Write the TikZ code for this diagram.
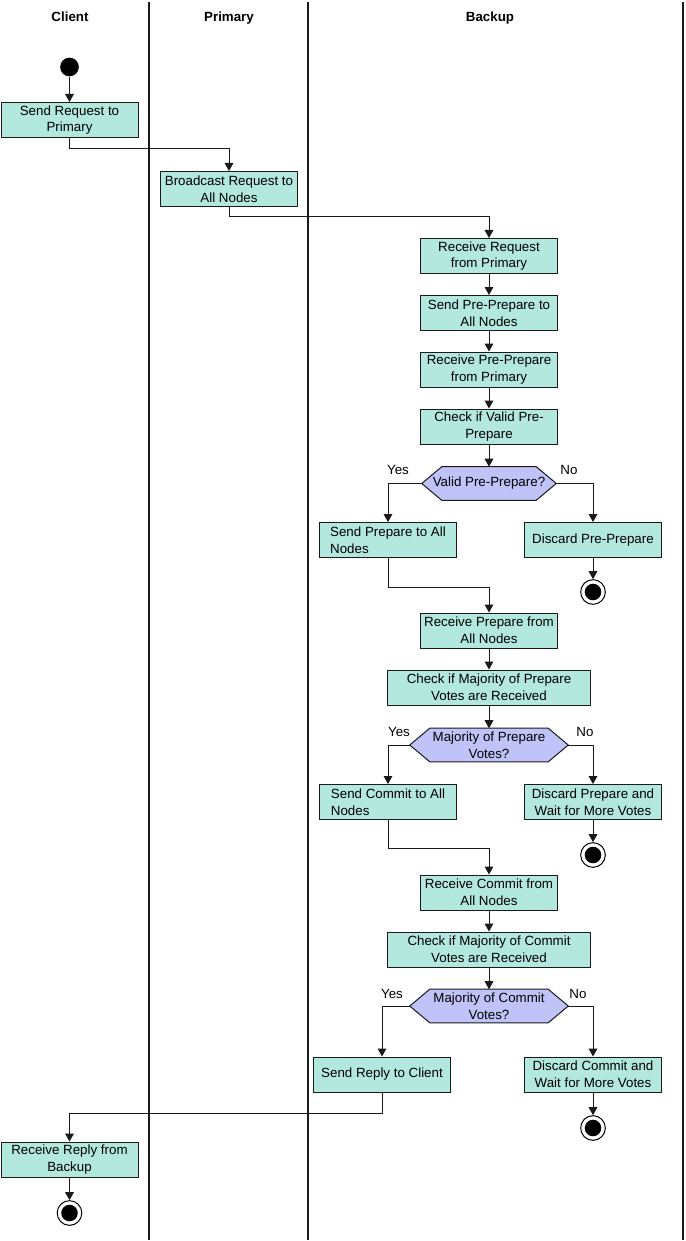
\documentclass[tikz,border=0pt]{standalone}
\usepackage{fontspec}
\setmainfont{Liberation Sans}
\usetikzlibrary{arrows.meta,backgrounds}
\definecolor{boxc}{HTML}{B3E8DF}
\definecolor{decc}{HTML}{BFC3F7}
\definecolor{linec}{HTML}{1A1A1A}
\newcommand\drawhex[1]{%
  \begin{scope}[on background layer]
    \path[hexfill] (#1.west) -- ([xshift=15pt]#1.north west) -- ([xshift=-15pt]#1.north east)
      -- (#1.east) -- ([xshift=-15pt]#1.south east) -- ([xshift=15pt]#1.south west) -- cycle;
  \end{scope}}
\begin{document}
\begin{tikzpicture}[x=0.75pt,y=-0.75pt,
  font=\fontsize{10}{12.5}\selectfont,
  act/.style={draw=linec, line width=0.75pt, fill=boxc, minimum width=102.75pt,
    minimum height=26.25pt, align=center, inner sep=1pt},
  widebox/.style={act, minimum width=152.25pt},
  dec/.style={minimum width=100.5pt, minimum height=24.75pt, align=center, inner sep=0pt},
  decw/.style={dec, minimum width=118.5pt},
  hexfill/.style={draw=linec, line width=0.75pt, fill=decc},
  flow/.style={draw=linec, line width=0.75pt, -{Triangle[length=6pt,width=6.5pt]}},
  lane/.style={draw=linec, line width=0.8pt},
  startnode/.style={circle, fill=black, minimum size=14pt, inner sep=0pt},
  endnode/.style={circle, draw=black, line width=0.75pt, fill=white, minimum size=18.5pt,
    inner sep=0pt, path picture={\fill[black] (path picture bounding box.center) circle (6.2pt);}},
  hdr/.style={font=\fontsize{10}{12}\selectfont\bfseries, anchor=base, inner sep=0pt},
  lbl/.style={font=\fontsize{10}{12}\selectfont, inner sep=0pt}]

\useasboundingbox (0,0) rectangle (685,1241);
\begin{scope}[on background layer]
  \fill[white] (0,0) rectangle (685,1241);
\end{scope}

% swimlanes
\draw[lane] (149,2) -- (149,1240);
\draw[lane] (308,2) -- (308,1240);
\draw[lane] (683,2) -- (683,1240);
\node[hdr] (hc) at (70,22) {Client};
\node[hdr] (hp) at (229,22) {Primary};
\node[hdr] (hb) at (490,22) {Backup};

% nodes
\node[startnode] (s) at (69.5,67) {};
\node[act] (b1) at (69.5,120) {Send Request to\\Primary};
\node[act] (b2) at (229,189) {Broadcast Request to\\All Nodes};
\node[act] (b3) at (489,256) {Receive Request\\from Primary};
\node[act] (b4) at (489,313) {Send Pre-Prepare to\\All Nodes};
\node[act] (b5) at (489,369.5) {Receive Pre-Prepare\\from Primary};
\node[act] (b6) at (489,426.5) {Check if Valid Pre-\\Prepare};
\node[dec] (d1) at (489,483.5) {Valid Pre-Prepare?};
\drawhex{d1}
\node[act, align=left] (b7) at (388,540) {Send Prepare to All\\Nodes};
\node[act] (b8) at (593,540) {Discard Pre-Prepare};
\node[endnode] (e1) at (593,592) {};
\node[act] (b9) at (489,630.5) {Receive Prepare from\\All Nodes};
\node[widebox] (b10) at (489,687.5) {Check if Majority of Prepare\\Votes are Received};
\node[decw] (d2) at (489,745) {Majority of Prepare\\Votes?};
\drawhex{d2}
\node[act, align=left] (b11) at (388,802) {Send Commit to All\\Nodes};
\node[act] (b12) at (593,802) {Discard Prepare and\\Wait for More Votes};
\node[endnode] (e2) at (593,855) {};
\node[act] (b13) at (489,892.5) {Receive Commit from\\All Nodes};
\node[widebox] (b14) at (489,949.5) {Check if Majority of Commit\\Votes are Received};
\node[decw] (d3) at (489,1006) {Majority of Commit\\Votes?};
\drawhex{d3}
\node[act] (b15) at (382,1074.5) {Send Reply to Client};
\node[act] (b16) at (593,1074.5) {Discard Commit and\\Wait for More Votes};
\node[endnode] (e3) at (593,1128) {};
\node[act] (b17) at (69.5,1159.5) {Receive Reply from\\Backup};
\node[endnode] (e4) at (69.5,1213) {};

% labels
\node[lbl] (y1) at (398,470) {Yes};
\node[lbl] (n1) at (569,470) {No};
\node[lbl] (y2) at (399,732) {Yes};
\node[lbl] (n2) at (585,732) {No};
\node[lbl] (y3) at (392,994) {Yes};
\node[lbl] (n3) at (578,994) {No};

% connectors
\draw[flow] (s) -- (b1);
\draw[flow] (b1.south) -- ++(0,11) -| (b2.north);
\draw[flow] (b2.south) -- ++(0,10) -| (b3.north);
\draw[flow] (b3) -- (b4);
\draw[flow] (b4) -- (b5);
\draw[flow] (b5) -- (b6);
\draw[flow] (b6) -- (d1);
\draw[flow] (d1.west) -| (b7.north);
\draw[flow] (d1.east) -| (b8.north);
\draw[flow] (b8) -- (e1);
\draw[flow] (b7.south) -- ++(0,29) -| (b9.north);
\draw[flow] (b9) -- (b10);
\draw[flow] (b10) -- (d2);
\draw[flow] (d2.west) -| (b11.north);
\draw[flow] (d2.east) -| (b12.north);
\draw[flow] (b12) -- (e2);
\draw[flow] (b11.south) -- ++(0,28) -| (b13.north);
\draw[flow] (b13) -- (b14);
\draw[flow] (b14) -- (d3);
\draw[flow] (d3.west) -| (b15.north);
\draw[flow] (d3.east) -| (b16.north);
\draw[flow] (b16) -- (e3);
\draw[flow] (b15.south) -- ++(0,21) -| (b17.north);
\draw[flow] (b17) -- (e4);
\end{tikzpicture}
\end{document}
